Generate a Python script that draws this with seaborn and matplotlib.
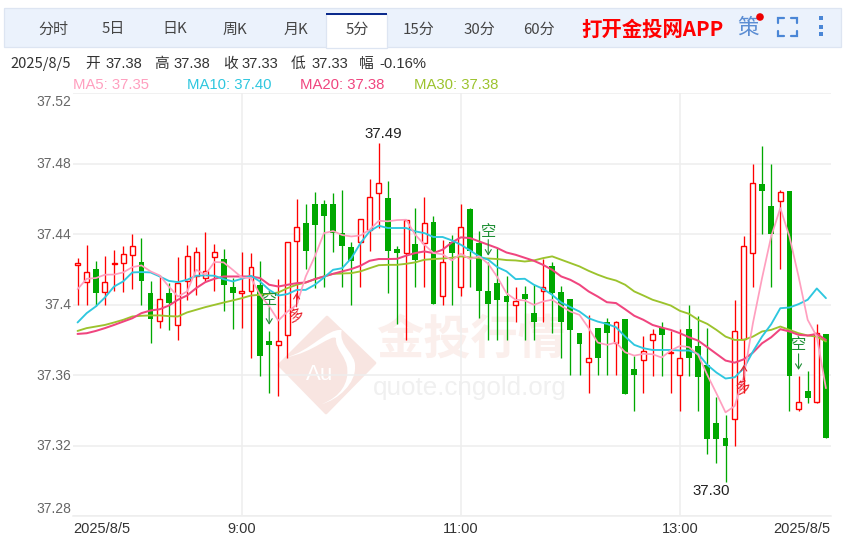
import numpy as np
import pandas as pd
import seaborn as sns
import matplotlib
matplotlib.use("Agg")
import matplotlib.pyplot as plt
from matplotlib.patches import Rectangle, Polygon, PathPatch, Circle
from matplotlib.path import Path
from matplotlib.transforms import ScaledTranslation

opens = [37.4225,37.4127,37.4201,37.4070,37.4231,37.4235,37.4282,37.4241,37.4064,37.3905,
         37.4064,37.3884,37.4133,37.4159,37.4150,37.4269,37.4258,37.4098,37.4064,37.4076,
         37.4108,37.3794,37.3769,37.3828,37.4360,37.4462,37.4570,37.4570,37.4570,37.4405,
         37.4326,37.4352,37.4424,37.4633,37.4604,37.4316,37.4290,37.4343,37.4348,37.4468,
         37.4049,37.4352,37.4097,37.4542,37.4348,37.4078,37.4121,37.4049,37.3996,37.4057,
         37.3951,37.4076,37.4220,37.4070,37.4030,37.3837,37.3672,37.3867,37.3900,37.3780,
         37.3917,37.3633,37.3686,37.3799,37.3866,37.3722,37.3600,37.3860,37.3765,37.3657,
         37.3326,37.3241,37.3352,37.3807,37.4290,37.4684,37.4561,37.4587,37.4646,37.3409,
         37.3508,37.3449,37.3830]
closes = [37.4235,37.4182,37.4063,37.4125,37.4235,37.4284,37.4333,37.4131,37.3919,37.4034,
          37.4006,37.4121,37.4277,37.4297,37.4191,37.4297,37.4110,37.4063,37.4076,37.4212,
          37.3705,37.3769,37.3794,37.4354,37.4439,37.4301,37.4451,37.4500,37.4403,37.4330,
          37.4244,37.4483,37.4610,37.4689,37.4301,37.4295,37.4477,37.4254,37.4460,37.4004,
          37.4239,37.4295,37.4439,37.4301,37.4074,37.4004,37.4025,37.4017,37.4019,37.4032,
          37.3903,37.4097,37.4068,37.3898,37.3856,37.3777,37.3695,37.3699,37.3841,37.3900,
          37.3492,37.3598,37.3737,37.3830,37.3826,37.3729,37.3695,37.3699,37.3587,37.3237,
          37.3237,37.3195,37.3848,37.4333,37.4689,37.4642,37.4402,37.4638,37.3597,37.3445,
          37.3472,37.3837,37.3244]
highs = [37.4263,37.4335,37.4246,37.4278,37.4309,37.4330,37.4400,37.4375,37.4133,37.4165,
         37.4121,37.4269,37.4337,37.4326,37.4411,37.4345,37.4316,37.4150,37.4297,37.4292,
         37.4248,37.3850,37.4146,37.4354,37.4600,37.4572,37.4640,37.4595,37.4633,37.4648,
         37.4352,37.4483,37.4714,37.4917,37.4703,37.4331,37.4477,37.4547,37.4610,37.4500,
         37.4364,37.4396,37.4572,37.4547,37.4415,37.4239,37.4320,37.4159,37.4098,37.4106,
         37.4112,37.4259,37.4239,37.4106,37.4030,37.3837,37.3941,37.3867,37.3922,37.3909,
         37.3917,37.3705,37.3822,37.3860,37.3898,37.3847,37.3862,37.3998,37.3932,37.3866,
         37.3473,37.3373,37.4027,37.4386,37.4799,37.4901,37.4799,37.4648,37.4646,37.3595,
         37.3621,37.3888,37.3830]
lows = [37.4000,37.4000,37.3989,37.4000,37.4078,37.4070,37.4089,37.4000,37.3784,37.3864,
        37.3854,37.3797,37.4023,37.4055,37.4131,37.4076,37.3964,37.3860,37.3864,37.3699,
        37.3597,37.3496,37.3481,37.3699,37.4008,37.4201,37.4093,37.4102,37.4299,37.4102,
        37.4000,37.4100,37.4301,37.4434,37.4068,37.3890,37.3797,37.4098,37.4098,37.4004,
        37.4000,37.3998,37.4049,37.4098,37.3926,37.3799,37.3799,37.3799,37.3898,37.3799,
        37.3799,37.3898,37.3841,37.3699,37.3598,37.3598,37.3500,37.3598,37.3598,37.3598,
        37.3492,37.3398,37.3500,37.3597,37.3597,37.3500,37.3398,37.3597,37.3398,37.3153,
        37.3099,37.2994,37.3197,37.3496,37.4100,37.4402,37.4100,37.4201,37.3398,37.3398,
        37.3443,37.3439,37.3244]
ma5 = [37.4087,37.4146,37.4150,37.4169,37.4170,37.4182,37.4212,37.4222,37.4188,37.4165,
       37.4102,37.4045,37.4074,37.4197,37.4169,37.4241,37.4239,37.4197,37.4153,37.4150,
       37.4055,37.3989,37.3909,37.3960,37.3998,37.4159,37.4273,37.4405,37.4417,37.4394,
       37.4386,37.4392,37.4424,37.4475,37.4472,37.4479,37.4481,37.4396,37.4339,37.4292,
       37.4285,37.4250,37.4288,37.4258,37.4273,37.4231,37.4155,37.4064,37.4027,37.4023,
       37.3998,37.4017,37.4027,37.3992,37.3960,37.3941,37.3866,37.3784,37.3771,37.3784,
       37.3729,37.3710,37.3720,37.3718,37.3699,37.3739,37.3765,37.3758,37.3714,37.3600,
       37.3496,37.3388,37.3424,37.3591,37.3894,37.4150,37.4386,37.4547,37.4386,37.4159,
       37.3913,37.3818,37.3525]
ma10 = [37.3898,37.3951,37.3989,37.4040,37.4102,37.4131,37.4182,37.4184,37.4182,37.4159,
        37.4134,37.4127,37.4140,37.4163,37.4165,37.4163,37.4144,37.4131,37.4146,37.4163,
        37.4130,37.4083,37.4051,37.4059,37.4083,37.4083,37.4112,37.4153,37.4197,37.4206,
        37.4263,37.4348,37.4415,37.4447,37.4434,37.4434,37.4434,37.4415,37.4405,37.4383,
        37.4383,37.4364,37.4339,37.4307,37.4273,37.4254,37.4212,37.4188,37.4144,37.4146,
        37.4112,37.4089,37.4055,37.4011,37.3985,37.3960,37.3922,37.3903,37.3890,37.3871,
        37.3818,37.3771,37.3752,37.3742,37.3742,37.3742,37.3739,37.3739,37.3720,37.3657,
        37.3614,37.3580,37.3587,37.3638,37.3733,37.3818,37.3888,37.3979,37.3983,37.4002,
        37.4027,37.4091,37.4036]
ma20 = [37.3833,37.3837,37.3850,37.3866,37.3884,37.3903,37.3922,37.3951,37.3966,37.3973,
        37.3994,37.4027,37.4051,37.4093,37.4127,37.4146,37.4159,37.4159,37.4159,37.4159,
        37.4150,37.4112,37.4102,37.4112,37.4121,37.4125,37.4144,37.4159,37.4174,37.4188,
        37.4201,37.4220,37.4248,37.4258,37.4258,37.4259,37.4277,37.4292,37.4301,37.4292,
        37.4311,37.4352,37.4381,37.4377,37.4358,37.4339,37.4320,37.4295,37.4282,37.4265,
        37.4248,37.4225,37.4197,37.4159,37.4140,37.4112,37.4074,37.4045,37.4013,37.4008,
        37.3973,37.3936,37.3913,37.3884,37.3869,37.3856,37.3837,37.3814,37.3795,37.3758,
        37.3720,37.3682,37.3670,37.3689,37.3727,37.3780,37.3814,37.3860,37.3847,37.3828,
        37.3824,37.3833,37.3799]
ma30 = [37.3850,37.3866,37.3875,37.3884,37.3898,37.3913,37.3932,37.3936,37.3938,37.3938,
        37.3934,37.3932,37.3955,37.3970,37.3985,37.3998,37.4011,37.4023,37.4036,37.4051,
        37.4055,37.4061,37.4068,37.4093,37.4112,37.4125,37.4144,37.4159,37.4174,37.4176,
        37.4178,37.4188,37.4206,37.4223,37.4225,37.4225,37.4231,37.4239,37.4254,37.4258,
        37.4261,37.4265,37.4273,37.4267,37.4263,37.4261,37.4258,37.4252,37.4250,37.4244,
        37.4250,37.4263,37.4273,37.4254,37.4235,37.4216,37.4191,37.4169,37.4150,37.4136,
        37.4112,37.4074,37.4051,37.4027,37.4011,37.3994,37.3964,37.3947,37.3913,37.3890,
        37.3856,37.3818,37.3799,37.3799,37.3818,37.3847,37.3856,37.3875,37.3856,37.3837,
        37.3824,37.3818,37.3790]

y_ticks = [37.28, 37.32, 37.36, 37.40, 37.44, 37.48, 37.52]
y_labels = ["37.28", "37.32", "37.36", "37.4", "37.44", "37.48", "37.52"]
x_ticks = [-0.5, 18, 42, 66, 82.5]
x_labels = ["2025/8/5", "9:00", "11:00", "13:00", "2025/8/5"]
tabs = ["分时", "5日", "日K", "周K", "月K", "5分", "15分", "30分", "60分"]
sig_idx = [21, 24, 45, 73, 79]
sig_text = ["空", "多", "空", "多", "空"]
sig_label = [37.4027, 37.3941, 37.4413, 37.3532, 37.3771]
sig_tail = [37.3981, 37.3987, 37.4368, 37.3572, 37.3720]
sig_tip = [37.3885, 37.4066, 37.4277, 37.3657, 37.3629]

RED, GREEN = "#ff0000", "#00a800"
C5, C10, C20, C30 = "#ff9fbf", "#2ec7df", "#f0457f", "#9cc32d"
GRID = "#eeeeee"
CJK = ["Noto Sans CJK SC", "DejaVu Sans"]
LAT = "Liberation Sans"

sns.set_theme(style="white")
plt.rcParams["font.family"] = [LAT, "DejaVu Sans"]

W, H = 852, 534
fig = plt.figure(figsize=(W / 100, H / 100), dpi=100)
fig.patch.set_facecolor("white")

# background layer in figure pixels (toolbar, header, watermark)
bg = fig.add_axes([0, 0, 1, 1], zorder=0)
bg.set_xlim(0, W); bg.set_ylim(H, 0); bg.axis("off")

bg.add_patch(Rectangle((4, 8), 837, 38.5, fc="#ebf2fc", ec="#dde5f2", lw=0.9))
bg.add_patch(Rectangle((326, 13.5), 61, 34, fc="white", ec="#dde5f2", lw=0.9, zorder=2))
bg.add_patch(Rectangle((326, 13), 61, 2, fc="#0b2a8c", ec="none", zorder=3))
for t, x in zip(tabs, [53, 113, 175, 235, 296, 357, 418, 479, 539]):
    bg.text(x, 29.5, t, ha="center", va="center", fontsize=10.8, color="#444444",
            family=CJK, zorder=4)
bg.text(652, 29, "打开金投网APP", ha="center", va="center", fontsize=14.7, color="#ff0000",
        family=CJK, fontweight="bold", zorder=4)
bg.text(748, 28.5, "策", ha="center", va="center", fontsize=15.5, color="#5b8dd3",
        family=CJK, fontweight="medium", zorder=4)
bg.add_patch(Circle((760, 17), 3.8, fc="#ee0000", ec="none", zorder=5))
for px, py in [((778, 778, 784), (23, 17.5, 17.5)), ((791, 797, 797), (17.5, 17.5, 23)),
               ((778, 778, 784), (31, 36, 36)), ((791, 797, 797), (36, 36, 31))]:
    bg.plot(px, py, color="#4a86d6", lw=1.6, solid_joinstyle="miter", zorder=4)
for py in [18, 27, 34]:
    bg.add_patch(Rectangle((819, py - 2), 4, 4, fc="#4a86d6", ec="none", zorder=4))

for x, t in [(10, "2025/8/5"), (85, "开"), (106, "37.38"), (154, "高"), (174, "37.38"),
             (223, "收"), (242, "37.33"), (291, "低"), (311, "37.33"),
             (359, "幅"), (379, "-0.16%")]:
    fam = CJK if t in ("开", "高", "收", "低", "幅", "2025/8/5") else [LAT, "DejaVu Sans"]
    bg.text(x, 64, t, ha="left", va="center", fontsize=10.6, color="#333333", family=fam)
for x, t, c in [(73, "MA5: 37.35", C5), (187, "MA10: 37.40", C10),
                (300, "MA20: 37.38", C20), (414, "MA30: 37.38", C30)]:
    bg.text(x, 85, t, ha="left", va="center", fontsize=10.7, color=c)

# watermark
bg.add_patch(Polygon([(327, 317), (375, 363), (326, 413), (279, 365)], closed=True,
                     fc="#f8e5e1", ec="#f8e5e1", lw=2, joinstyle="round"))
swoosh = Path([(286, 357.3), (310, 351.7), (326.7, 328.3), (341.7, 330),
               (338.3, 346.7), (356, 353.3), (355, 366.7),
               (356, 383), (338, 400), (321.7, 404),
               (341.7, 396.7), (348.3, 381.7), (347.3, 370),
               (347.3, 356.7), (335, 350), (336, 338.3),
               (331.7, 333.3), (313, 353), (286, 357.3)],
              [Path.MOVETO] + [Path.CURVE4] * 18)
bg.add_patch(PathPatch(swoosh, fc="white", ec="none"))
bg.text(320, 375, "Au", ha="center", va="center", fontsize=16, color="white")
bg.text(471, 340, "金投行情", ha="center", va="center", fontsize=34, color="#fbefec",
        family=CJK, fontweight="bold")
bg.text(470, 388, "quote.cngold.org", ha="center", va="center", fontsize=18.7, color="#f0f0f0")

# main chart
L, R, T, B = 73, 830.5, 93, 516
ax = fig.add_axes([L / W, 1 - B / H, (R - L) / W, (B - T) / H], zorder=1)
ax.patch.set_alpha(0)
ax.set_xlim(-0.5, 82.5)
ax.set_ylim(37.28, 37.52)

idx = np.arange(len(opens))
df = pd.DataFrame({"idx": idx, "open": opens, "close": closes, "high": highs, "low": lows,
                   "MA5": ma5, "MA10": ma10, "MA20": ma20, "MA30": ma30})
up = df["close"] >= df["open"]
top = df[["open", "close"]].max(axis=1)
bot = df[["open", "close"]].min(axis=1)

ax.vlines(df["idx"], df["low"], df["high"], colors=np.where(up, RED, GREEN), lw=0.95, zorder=2)
ax.bar(df["idx"][~up], (top - bot)[~up], bottom=bot[~up], width=0.64, color=GREEN,
       edgecolor="none", zorder=3)
ax.bar(df["idx"][up], (top - bot)[up], bottom=bot[up], width=0.54, facecolor="white",
       edgecolor=RED, linewidth=1.0, zorder=3)

for name, col, lw, z in [("MA30", C30, 1.35, 4), ("MA20", C20, 1.45, 5),
                         ("MA10", C10, 1.35, 6), ("MA5", C5, 1.25, 7)]:
    sns.lineplot(data=df, x="idx", y=name, color=col, lw=lw, ax=ax, zorder=z,
                 errorbar=None, legend=False)

ax.set_xlabel(""); ax.set_ylabel("")
ax.set_xticks(x_ticks); ax.set_xticklabels(x_labels)
ax.set_yticks(y_ticks); ax.set_yticklabels(y_labels)
ax.grid(True, color=GRID, lw=1.1, zorder=0)
ax.set_axisbelow(True)
gl = ax.get_xgridlines()
gl[0].set_visible(False); gl[-1].set_visible(False)
for s in ax.spines.values():
    s.set_visible(False)
ax.spines["bottom"].set_visible(True)
ax.spines["bottom"].set_color(GRID)
ax.spines["bottom"].set_linewidth(1.1)
ax.tick_params(axis="both", length=0)
ax.tick_params(axis="y", labelsize=10, labelcolor="#666666", pad=1)
ax.tick_params(axis="x", labelsize=10.5, labelcolor="#333333", pad=4)
xl = ax.get_xticklabels()
xl[0].set_ha("left"); xl[-1].set_ha("right")
yl = ax.get_yticklabels()
yl[0].set_va("bottom"); yl[-1].set_va("top")
up1 = ScaledTranslation(0, 1 / 100, fig.dpi_scale_trans)
down2 = ScaledTranslation(0, -2 / 100, fig.dpi_scale_trans)
for lab in yl[1:-1]:
    lab.set_transform(lab.get_transform() + up1)
yl[-1].set_transform(yl[-1].get_transform() + down2)

# extreme-value labels
ax.annotate("37.49", (33, max(highs)), xytext=(4.5, 2), textcoords="offset pixels",
            ha="center", va="bottom", fontsize=10.8, color="#222222", annotation_clip=False)
ax.annotate("37.30", (71, min(lows)), xytext=(-14, -2), textcoords="offset pixels",
            ha="center", va="top", fontsize=10.8, color="#222222", annotation_clip=False)

# trade signals
for i, t, yv, ya, yb in zip(sig_idx, sig_text, sig_label, sig_tail, sig_tip):
    c = "#e8202a" if t == "多" else "#1f8f35"
    ax.text(i, yv, t, ha="center", va="center", fontsize=11, color=c, family=CJK,
            rotation=18 if t == "多" else 0, zorder=8)
    ax.annotate("", xy=(i, yb), xytext=(i, ya), zorder=8,
                arrowprops=dict(arrowstyle="->,head_width=0.18,head_length=0.3", color=c,
                                lw=0.8, shrinkA=0, shrinkB=0))

fig.savefig("out.png", dpi=100)
